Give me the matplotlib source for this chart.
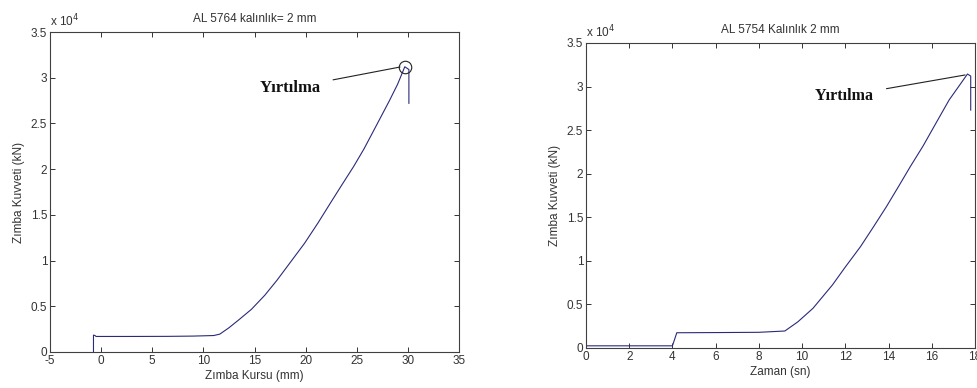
import matplotlib.pyplot as plt
from matplotlib.ticker import FuncFormatter

plt.rcParams["font.family"] = ["Liberation Sans", "DejaVu Sans"]
plt.rcParams["axes.unicode_minus"] = False

# Left panel: force vs punch stroke
stroke = [-0.75, -0.75, -0.6, -0.5, 3, 6.5, 9, 11, 11.6, 12.5, 13.5, 14.7,
          16.0, 17.2, 18.5, 19.9, 21.2, 22.4, 23.5, 24.7, 25.7, 26.6, 27.4,
          28.2, 29.0, 29.7, 30.1, 30.1]
force_a = [0, 1850, 1800, 1700, 1700, 1710, 1740, 1800, 1950, 2650, 3550, 4670,
           6200, 7850, 9800, 11900, 14100, 16250, 18200, 20300, 22200, 24100,
           25800, 27500, 29300, 31200, 30900, 27200]

# Right panel: force vs time
time = [0, 4.0, 4.2, 6.0, 8.0, 9.2, 9.8, 10.5, 11.4, 12.0, 12.7, 13.3, 13.9,
        14.5, 15.0, 15.6, 16.1, 16.8, 17.65, 17.8, 17.8]
force_b = [250, 250, 1750, 1770, 1800, 1950, 3000, 4550, 7230, 9300, 11630,
           13900, 16220, 18700, 20800, 23200, 25400, 28460, 31440, 31200, 27300]

peak_a = (29.72, 31200)

line_col = "#2a2a7a"
txt_col = "#333333"
fs = 8.5

fig = plt.figure(figsize=(9.77, 3.88), dpi=100)
ax1 = fig.add_axes([0.0512, 0.0928, 0.4186, 0.8247])
ax2 = fig.add_axes([0.5998, 0.1031, 0.3982, 0.7861])

fmt = FuncFormatter(lambda v, p: f"{v / 1e4:g}")

for ax in (ax1, ax2):
    ax.set_ylim(0, 35000)
    ax.set_yticks([0, 5000, 10000, 15000, 20000, 25000, 30000, 35000])
    ax.yaxis.set_major_formatter(fmt)
    ax.tick_params(direction="in", top=True, right=True, length=3.5,
                   width=0.7, labelsize=fs, colors=txt_col, pad=2)
    for s in ax.spines.values():
        s.set_color("#404040")
        s.set_linewidth(0.8)
    ax.set_ylabel("Zımba Kuvveti (kN)", fontsize=fs, color=txt_col, labelpad=4)
    ax.text(0, 1.008, r"x 10$^4$", transform=ax.transAxes, ha="left",
            va="bottom", fontsize=fs, color=txt_col)

# Left
ax1.plot(stroke, force_a, color=line_col, lw=0.8)
ax1.plot(*peak_a, "o", mfc="none", mec="#222222", ms=9, mew=0.8)
ax1.set_xlim(-5, 35)
ax1.set_xticks(range(-5, 36, 5))
ax1.set_xlabel("Zımba Kursu (mm)", fontsize=fs, color=txt_col, labelpad=2)
ax1.set_title("AL 5764 kalınlık= 2 mm", fontsize=fs, color=txt_col, pad=7)
ax1.annotate("Yırtılma", xy=(29.23, 31170), xytext=(15.5, 28870),
             fontsize=12, fontweight="bold", family="Liberation Serif",
             va="center", color="#111111",
             arrowprops=dict(arrowstyle="-", color="#222222", lw=0.8,
                             shrinkA=7, shrinkB=0))

# Right
ax2.plot(time, force_b, color=line_col, lw=0.8)
ax2.set_xlim(0, 18)
ax2.set_xticks(range(0, 19, 2))
ax2.set_xlabel("Zaman (sn)", fontsize=fs, color=txt_col, labelpad=2)
ax2.set_title("AL 5754 Kalınlık 2 mm", fontsize=fs, color=txt_col, pad=7)
ax2.annotate("Yırtılma", xy=(17.54, 31330), xytext=(10.6, 28920),
             fontsize=11.5, fontweight="bold", family="Liberation Serif",
             va="center", color="#111111",
             arrowprops=dict(arrowstyle="-", color="#222222", lw=0.8,
                             shrinkA=7, shrinkB=0))

fig.savefig("out.png", dpi=100)
